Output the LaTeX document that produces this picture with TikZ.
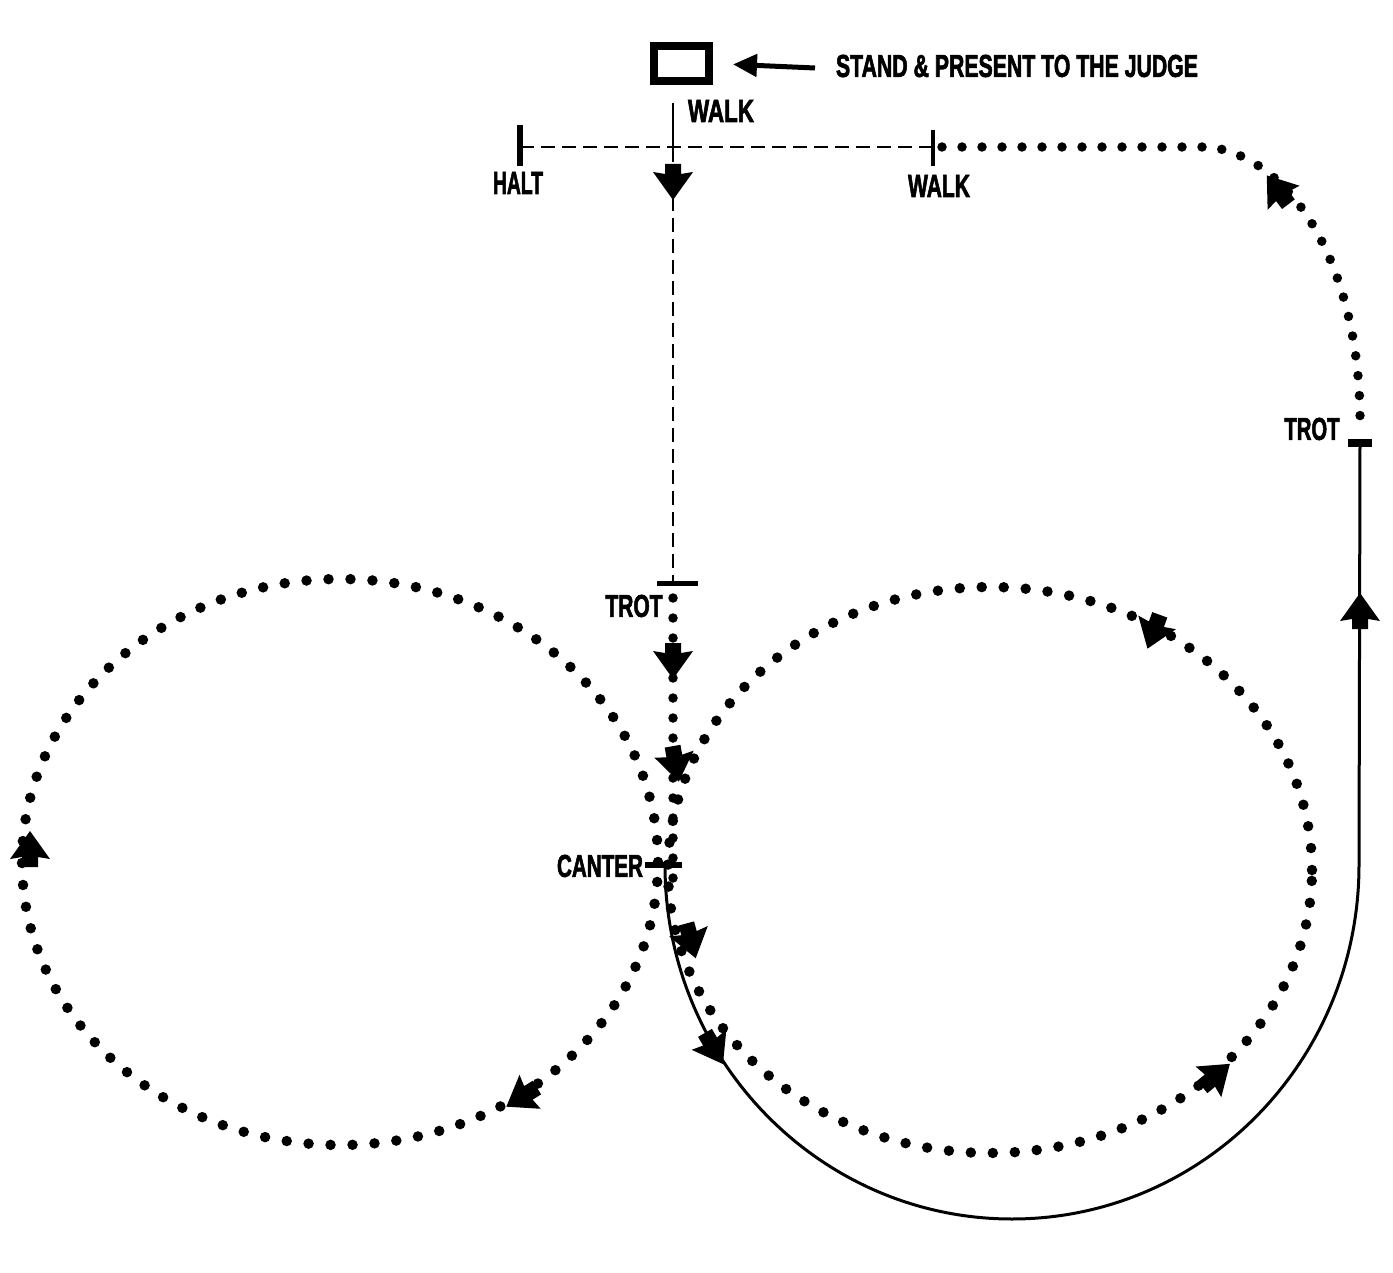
\documentclass[tikz,border=0pt]{standalone}
\usepackage{fontspec}
\setmainfont{Liberation Sans}
\newfontfamily\heavyfont{Liberation Sans}[FakeBold=2.5]
\usetikzlibrary{arrows.meta}
\newcommand{\lbltxt}[3]{\resizebox{#1pt}{#2pt}{\heavyfont\bfseries #3}}
\begin{document}
\begin{tikzpicture}[x=1pt,y=-1pt,
  dots/.style={line width=10.5pt, line cap=round, dash pattern=on 0pt off 22pt},
  fdots/.style={line width=9.5pt, line cap=round, dash pattern=on 0pt off 20pt},
  dashln/.style={line width=2.5pt, dash pattern=on 14pt off 7pt},
  solidln/.style={line width=3pt},
  lbl/.style={inner sep=0pt, anchor=center},
  ahd/.pic={\fill (22,0) -- (-6,20) -- (-4,8) -- (-14,8) -- (-14,-8) -- (-4,-8) -- (-6,-20) -- cycle;}
]
\useasboundingbox (0,0) rectangle (1393,1273);
\fill[white] (0,0) rectangle (1393,1273);

% key points
\coordinate (halt) at (520,147);
\coordinate (walkA) at (673,147);
\coordinate (walkTop) at (673,103);
\coordinate (walkB) at (933,147);
\coordinate (bend) at (1210,147);
\coordinate (trotC) at (673,583);
\coordinate (canter) at (665,865);
\coordinate (trotR) at (1360,443);
\coordinate (arrtail) at (815,68);

% judge box and arrow
\node[draw, line width=8pt, minimum width=55pt, minimum height=35pt, inner sep=0pt] (box) at (681.5,63.5) {};
\draw[line width=5pt, -{Triangle[length=24pt,width=22pt]}, shorten >=20pt] (arrtail) -- (box.east);

% labels
\node[lbl] (tstand) at (1017,66) {\lbltxt{362}{22}{STAND \& PRESENT TO THE JUDGE}};
\node[lbl] (twalk1) at (721,111) {\lbltxt{66}{22}{WALK}};
\node[lbl] (thalt) at (518,183) {\lbltxt{50}{22}{HALT}};
\node[lbl] (twalk2) at (939,186) {\lbltxt{62}{22}{WALK}};
\node[lbl] (ttrotr) at (1312,429) {\lbltxt{55}{22}{TROT}};
\node[lbl] (ttrotc) at (634,606) {\lbltxt{57}{22}{TROT}};
\node[lbl] (tcanter) at (600,866) {\lbltxt{86}{22}{CANTER}};

% walk lines
\draw[dashln] (halt) -- (walkB);
\draw[line width=2pt] (walkTop) -- (673,162);
\pic[rotate=-90] at (673,178) {ahd};
\draw[dashln] (673,197) -- (trotC);

% ticks
\draw[line width=6pt] (halt) ++(0,-22) -- ++(0,41);
\draw[line width=4pt] (walkB) ++(0,-17) -- ++(0,36);
\draw[line width=5pt] (trotC) ++(-16,0) -- ++(41,0);
\draw[line width=8pt] (trotR) ++(-12,0) -- ++(24,0);
\draw[line width=6pt] (canter) ++(-20,0) -- ++(37,0);

% trot to canter dots
\draw[fdots] (673,598) -- (673,880);

% circles
\draw[dots] (340,862) ellipse [x radius=318pt, y radius=283pt];
\draw[dots] (990,870) ellipse [x radius=322pt, y radius=283pt];

% solid canter/trot line
\draw[solidln] (canter) arc[start angle=180, end angle=360, x radius=347pt, y radius=354pt] -- (trotR);

% dotted return to walk
\draw[fdots] (walkB) ++(9,0) -- (bend) .. controls (1300,160) and (1362,280) .. (1360,428);

% arrowheads
\pic[rotate=-90] at (673,657) {ahd};
\pic[rotate=-80] at (675,760) {ahd};
\pic[rotate=-75] at (690,937) {ahd};
\pic[rotate=-60] at (712,1045) {ahd};
\pic[rotate=90] at (1360,615) {ahd};
\pic[rotate=127] at (1280,193) {ahd};
\pic[rotate=90] at (30,853) {ahd};
\pic[rotate=-148] at (525,1095) {ahd};
\pic[rotate=-110] at (1155,628) {ahd};
\pic[rotate=40] at (1213,1078) {ahd};
\end{tikzpicture}
\end{document}
